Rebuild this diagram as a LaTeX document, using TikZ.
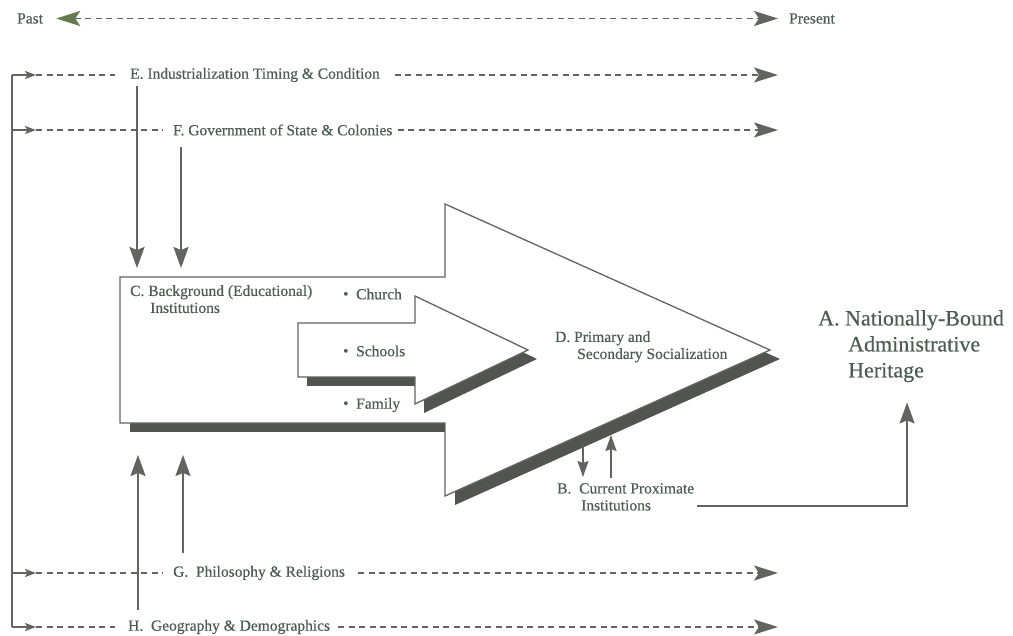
\documentclass[tikz,border=0pt]{standalone}
\usepackage{fontspec}
\setmainfont{Liberation Serif}[BoldFont=Liberation Serif,BoldFeatures={FakeBold=0.35}]
\usetikzlibrary{arrows.meta,calc}
\definecolor{txt}{RGB}{76,92,82}
\definecolor{ln}{RGB}{98,100,98}
\definecolor{shd}{RGB}{82,84,82}
\definecolor{grn}{RGB}{100,122,80}
\newcommand\blt{{\raisebox{0.5pt}{\fontsize{15}{15}\selectfont\textbullet}}\ \ }
\begin{document}
\begin{tikzpicture}[x=1pt,y=-1pt,
  lbl/.style={text=txt,font=\fontsize{15.5}{17}\selectfont\bfseries,inner sep=0pt},
  biglbl/.style={text=txt,font=\fontsize{22}{26}\selectfont\bfseries,inner sep=0pt,align=left},
  tl/.style={draw=ln,line width=1.8pt,dash pattern=on 6pt off 4.5pt},
  endtip/.style={-{Stealth[length=24pt,width=15pt,inset=5pt]}},
  vtip/.style={draw=ln,line width=1.8pt,-{Stealth[length=21pt,width=15pt,inset=3pt]}},
  btip/.style={draw=ln,line width=1.7pt,-{Stealth[length=16pt,width=11pt,inset=2pt]}},
  stip/.style={draw=ln,line width=1.5pt,-{Stealth[length=11pt,width=8pt,inset=2.5pt]}},
  outline/.style={draw=ln,line width=1.3pt,fill=white},
]
\useasboundingbox (0,0) rectangle (1013,636);

% timeline
\node[lbl,anchor=west] (past) at (17,18.5) {Past};
\node[lbl,anchor=west] (present) at (789,18.5) {Present};
\draw[tl,{Stealth[length=24pt,width=15pt,inset=5pt,color=grn]}-{Stealth[length=24pt,width=15pt,inset=5pt]}]
  ([xshift=13pt]past.east) -- ([xshift=-11pt]present.west);

% left bracket and factor rows
\coordinate (eL) at (12,75);  \coordinate (eA) at (36,75);  \coordinate (eR) at (778,75);
\coordinate (fL) at (12,130); \coordinate (fA) at (36,130); \coordinate (fR) at (778,130);
\coordinate (gL) at (12,573); \coordinate (gA) at (36,573); \coordinate (gR) at (778,573);
\coordinate (hL) at (12,627); \coordinate (hA) at (36,627); \coordinate (hR) at (778,627);
\draw[draw=ln,line width=1.6pt] (eL) -- (hL);

\node[lbl,anchor=west] (E) at (130,75) {E. Industrialization Timing \& Condition};
\node[lbl,anchor=west] (F) at (173,130) {F. Government of State \& Colonies};
\node[lbl,anchor=west] (G) at (173,573) {G.\ \ Philosophy \& Religions};
\node[lbl,anchor=west] (H) at (128,627) {H.\ \ Geography \& Demographics};

\draw[stip] (eL) -- (eA);
\draw[stip] (fL) -- (fA);
\draw[stip] (gL) -- (gA);
\draw[stip] (hL) -- (hA);
\draw[tl] (eA) -- ([xshift=-15pt]E.west);
\draw[tl,endtip] ([xshift=15pt]E.east) -- (eR);
\draw[tl] (fA) -- ([xshift=-10pt]F.west);
\draw[tl,endtip] ([xshift=5pt]F.east) -- (fR);
\draw[tl] (gA) -- ([xshift=-10pt]G.west);
\draw[tl,endtip] ([xshift=13pt]G.east) -- (gR);
\draw[tl] (hA) -- ([xshift=-13pt]H.west);
\draw[tl,endtip] ([xshift=8pt]H.east) -- (hR);

% outer arrow (C / D)
\begin{scope}[shift={(10,9)}]
\fill[shd] (120,277) -- (445,277) -- (445,204) -- (770,350) -- (445,496) -- (445,423) -- (120,423) -- cycle;
\end{scope}
\draw[outline] (120,277) -- (445,277) -- (445,204) -- (770,350) -- (445,496) -- (445,423) -- (120,423) -- cycle;

% inner arrow
\begin{scope}[shift={(9,9)}]
\fill[shd] (298,323) -- (415,323) -- (415,296) -- (528,350) -- (415,404) -- (415,377) -- (298,377) -- cycle;
\end{scope}
\draw[outline] (298,323) -- (415,323) -- (415,296) -- (528,350) -- (415,404) -- (415,377) -- (298,377) -- cycle;

% arrow end points on the big arrow
\coordinate (c1) at (137,268);
\coordinate (c2) at (181,268);
\coordinate (c3) at (138,455);
\coordinate (c4) at (183,455);
\coordinate (dOut) at (583,445);
\coordinate (dIn) at (611,435);

\draw[vtip] ($(E.south -| c1)+(0,4)$) -- (c1);
\draw[vtip] ($(F.south -| c2)+(0,11)$) -- (c2);
\draw[vtip] ($(H.north -| c3)+(0,-10)$) -- (c3);
\draw[vtip] ($(G.north -| c4)+(0,-13)$) -- (c4);

% labels inside
\node[lbl,anchor=north west,align=left] (C) at (130,285) {C. Background (Educational)\\\hspace{20pt}Institutions};
\node[lbl,anchor=west] (church) at (343,294) {\blt Church};
\node[lbl,anchor=west] (schools) at (343,351) {\blt Schools};
\node[lbl,anchor=west] (family) at (343,405) {\blt Family};
\node[lbl,anchor=north west,align=left] (D) at (555,331) {D. Primary and\\\hspace{22pt}Secondary Socialization};

% B
\node[lbl,anchor=north west,align=left] (B) at (557,483) {B.\ \ Current Proximate\\\hspace{24pt}Institutions};
\draw[btip] (dOut) -- ($(B.north -| dOut)+(0,-6)$);
\draw[btip] ($(B.north -| dIn)+(0,-5)$) -- (dIn);

% A
\node[biglbl,anchor=north west] (A) at (818,310) {A. Nationally-Bound\\\hspace{30pt}Administrative\\\hspace{30pt}Heritage};
\draw[vtip] ([shift={(3,9)}]B.east) -| ([shift={(-4,20)}]A.south);
\end{tikzpicture}
\end{document}
